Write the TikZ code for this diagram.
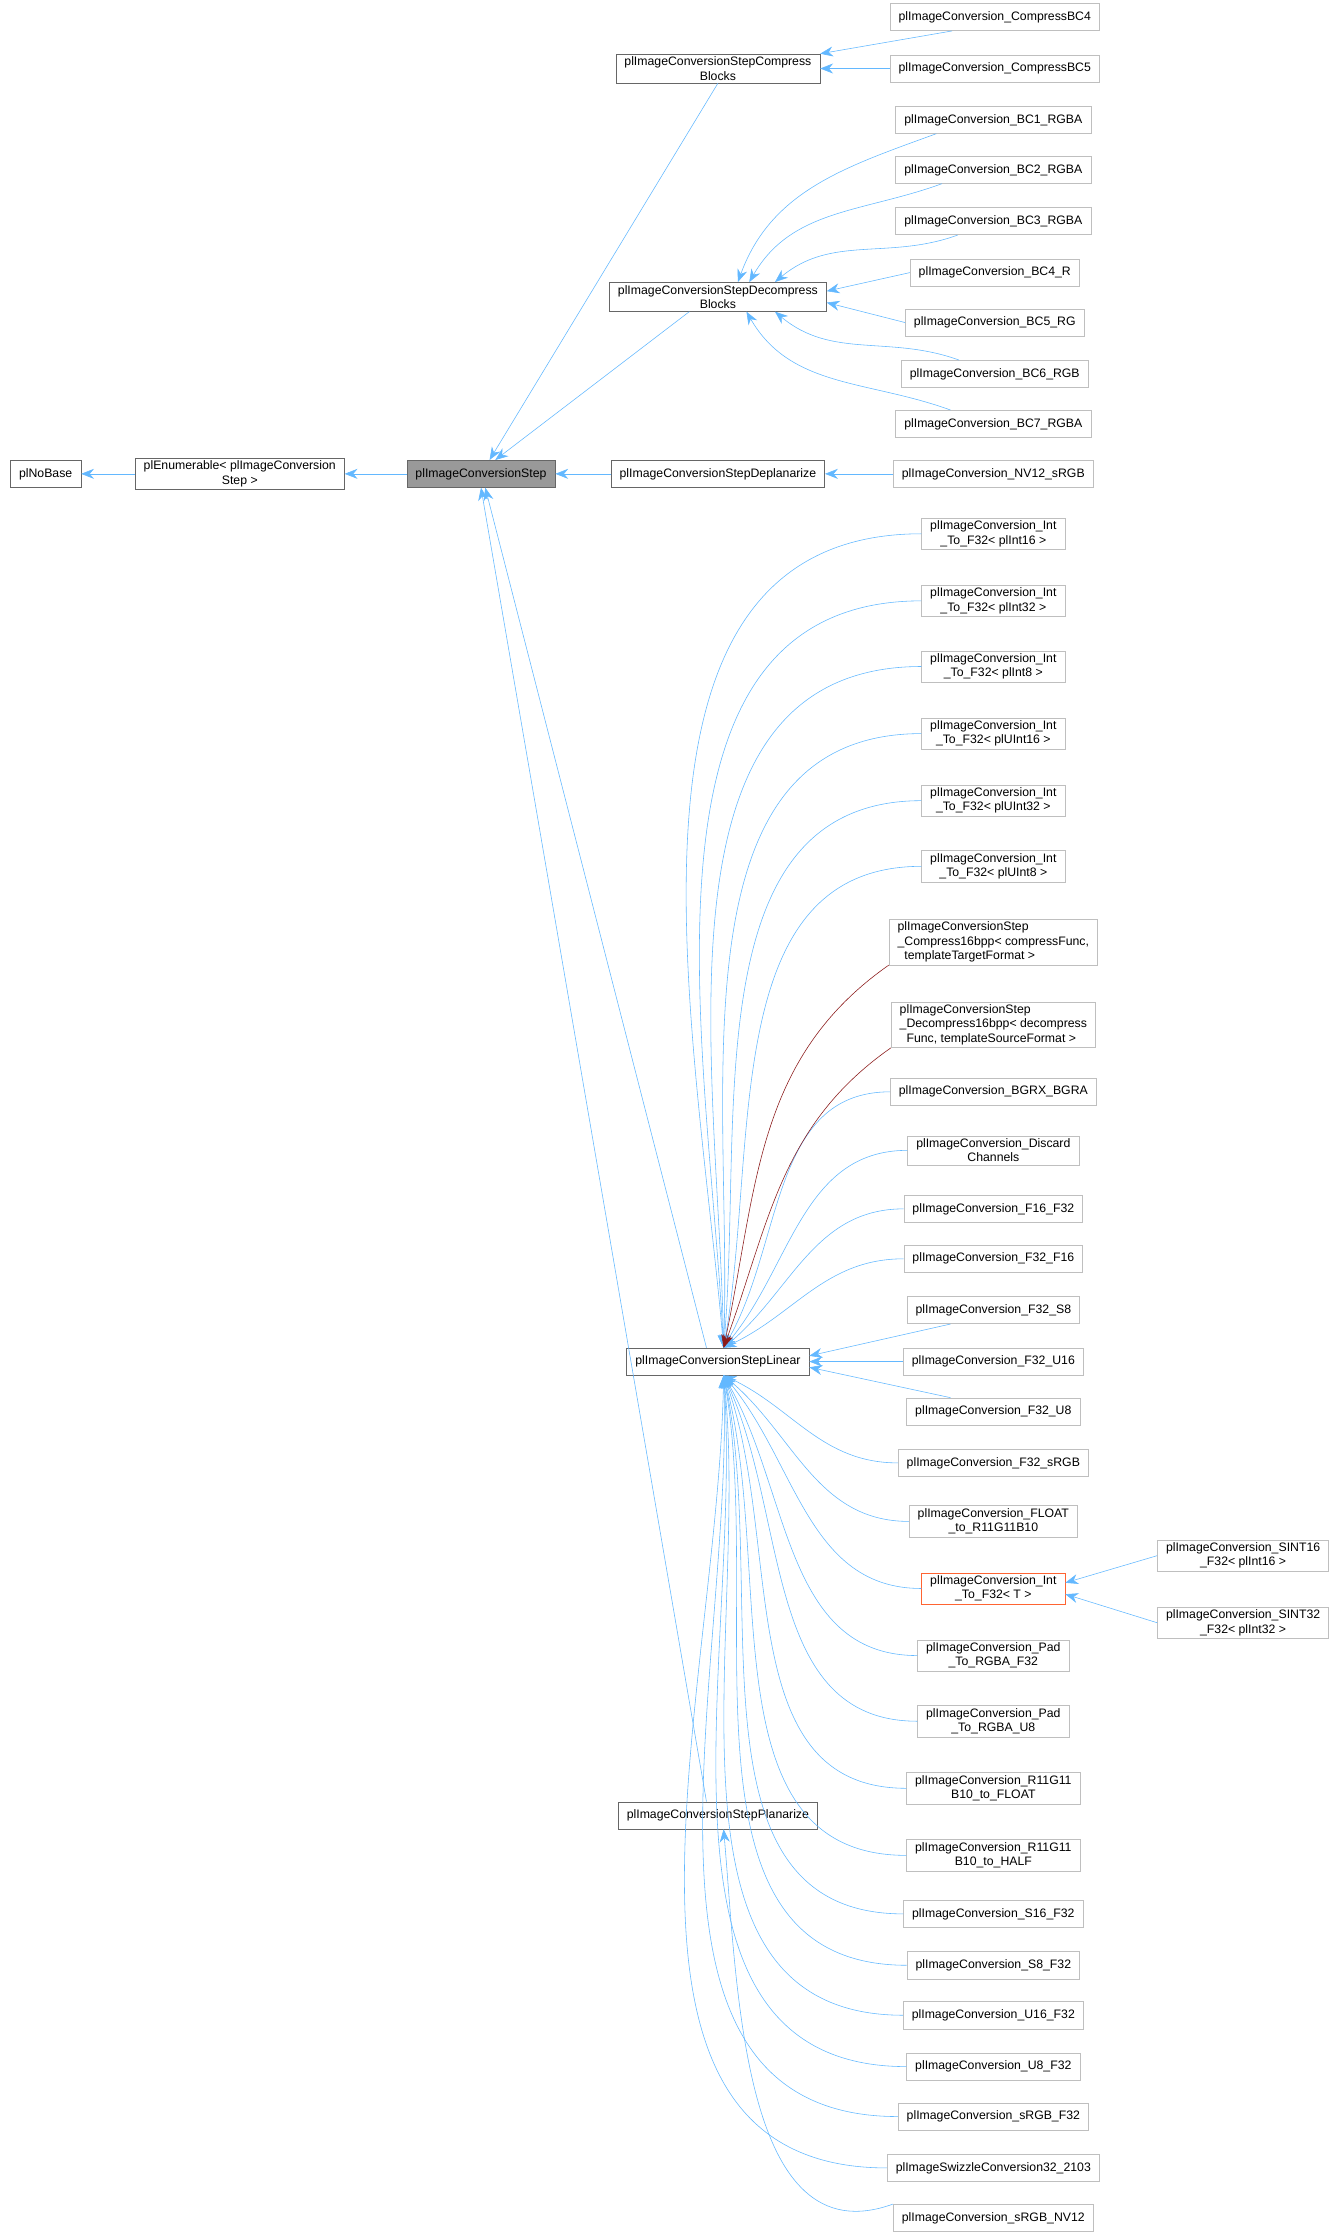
\documentclass[tikz,border=0pt]{standalone}
\usepackage{fontspec}
\setmainfont{Liberation Sans}
\usetikzlibrary{arrows.meta,calc}
\definecolor{eb}{HTML}{63B8FF}
\definecolor{dr}{HTML}{8B1A1A}
\begin{document}
\begin{tikzpicture}[x=1pt,y=-1pt,
  box/.style={draw=black!60,fill=white,font=\fontsize{8.6}{10}\selectfont,align=center,inner xsep=6pt,inner ysep=2pt,minimum height=19pt},
  lbox/.style={box,draw=black!25},
  inh/.style={draw=eb,-{Stealth[length=9pt,width=7pt]}},
  tinh/.style={draw=dr,-{Stealth[length=9pt,width=7pt]}}]
\useasboundingbox (0,0) rectangle (937,1566);
\node[box] (nobase) at (32,332) {plNoBase};
\node[box] (enum) at (168,332) {plEnumerable< plImageConversion\\Step >};
\node[box,fill=black!40] (step) at (337,332) {plImageConversionStep};
\node[box] (cb) at (503,48) {plImageConversionStepCompress\\Blocks};
\node[box] (db) at (503,208) {plImageConversionStepDecompress\\Blocks};
\node[box] (dep) at (503,332) {plImageConversionStepDeplanarize};
\node[box] (lin) at (503,954) {plImageConversionStepLinear};
\node[box] (pla) at (503,1272) {plImageConversionStepPlanarize};
\node[lbox] (c4) at (697,12) {plImageConversion\_CompressBC4};
\node[lbox] (c5) at (697,48) {plImageConversion\_CompressBC5};
\node[lbox] (b1) at (696,84) {plImageConversion\_BC1\_RGBA};
\node[lbox] (b2) at (696,119) {plImageConversion\_BC2\_RGBA};
\node[lbox] (b3) at (696,155) {plImageConversion\_BC3\_RGBA};
\node[lbox] (b4) at (697,191) {plImageConversion\_BC4\_R};
\node[lbox] (b5) at (697,226) {plImageConversion\_BC5\_RG};
\node[lbox] (b6) at (697,262) {plImageConversion\_BC6\_RGB};
\node[lbox] (b7) at (696,297) {plImageConversion\_BC7\_RGBA};
\node[lbox] (nv) at (696,332) {plImageConversion\_NV12\_sRGB};
\node[lbox] (i16) at (696,374) {plImageConversion\_Int\\\_To\_F32< plInt16 >};
\node[lbox] (i32) at (696,421) {plImageConversion\_Int\\\_To\_F32< plInt32 >};
\node[lbox] (i8) at (696,467) {plImageConversion\_Int\\\_To\_F32< plInt8 >};
\node[lbox] (u16) at (696,514) {plImageConversion\_Int\\\_To\_F32< plUInt16 >};
\node[lbox] (u32) at (696,561) {plImageConversion\_Int\\\_To\_F32< plUInt32 >};
\node[lbox] (u8) at (696,607) {plImageConversion\_Int\\\_To\_F32< plUInt8 >};
\node[lbox,align=left] (c16) at (696,660) {plImageConversionStep\\\_Compress16bpp< compressFunc,\\\ \ templateTargetFormat >};
\node[lbox,align=left] (d16) at (696,718) {plImageConversionStep\\\_Decompress16bpp< decompress\\\ \ Func, templateSourceFormat >};
\node[lbox] (bgrx) at (696,765) {plImageConversion\_BGRX\_BGRA};
\node[lbox] (disc) at (696,806) {plImageConversion\_Discard\\Channels};
\node[lbox] (f1632) at (696,847) {plImageConversion\_F16\_F32};
\node[lbox] (f3216) at (696,882) {plImageConversion\_F32\_F16};
\node[lbox] (fs8) at (696,918) {plImageConversion\_F32\_S8};
\node[lbox] (fu16) at (696,954) {plImageConversion\_F32\_U16};
\node[lbox] (fu8) at (696,989) {plImageConversion\_F32\_U8};
\node[lbox] (fsrgb) at (696,1025) {plImageConversion\_F32\_sRGB};
\node[lbox] (flt) at (696,1066) {plImageConversion\_FLOAT\\\_to\_R11G11B10};
\node[box,draw={rgb,255:red,255;green,100;blue,50}] (it) at (696,1113) {plImageConversion\_Int\\\_To\_F32< T >};
\node[lbox] (s16t) at (871,1090) {plImageConversion\_SINT16\\\_F32< plInt16 >};
\node[lbox] (s32t) at (871,1137) {plImageConversion\_SINT32\\\_F32< plInt32 >};
\node[lbox] (pf) at (696,1160) {plImageConversion\_Pad\\\_To\_RGBA\_F32};
\node[lbox] (pu) at (696,1206) {plImageConversion\_Pad\\\_To\_RGBA\_U8};
\node[lbox] (rfl) at (696,1253) {plImageConversion\_R11G11\\B10\_to\_FLOAT};
\node[lbox] (rha) at (696,1300) {plImageConversion\_R11G11\\B10\_to\_HALF};
\node[lbox] (s16) at (696,1341) {plImageConversion\_S16\_F32};
\node[lbox] (s8) at (696,1377) {plImageConversion\_S8\_F32};
\node[lbox] (un16) at (696,1412) {plImageConversion\_U16\_F32};
\node[lbox] (un8) at (696,1448) {plImageConversion\_U8\_F32};
\node[lbox] (srgb) at (696,1483) {plImageConversion\_sRGB\_F32};
\node[lbox] (swz) at (696,1519) {plImageSwizzleConversion32\_2103};
\node[lbox] (snv) at (696,1554) {plImageConversion\_sRGB\_NV12};
% main chain
\draw[inh] (enum) -- (nobase);
\draw[inh] (step) -- (enum);
\draw[inh] (dep) -- (step);
\draw[inh] (nv) -- (dep);
\draw[inh] (cb.south) -- ([xshift=6pt]step.north);
\draw[inh] ([xshift=-20pt]db.south) -- ([xshift=10pt]step.north);
\draw[inh] ([xshift=-8pt]lin.north) -- ([xshift=3pt]step.south);
\draw[inh] ([xshift=-8pt]pla.north) -- (step.south);
\draw[inh] ([xshift=-30pt]c4.south) -- (cb.north east);
\draw[inh] (c5) -- (cb);
\draw[inh] ([xshift=-40pt]b1.south) to[out=200,in=70] ([xshift=14pt]db.north);
\draw[inh] ([xshift=-36pt]b2.south) to[out=200,in=60] ([xshift=22pt]db.north);
\draw[inh] ([xshift=-25pt]b3.south) to[out=200,in=40] ([xshift=40pt]db.north);
\draw[inh] (b4.west) -- ([yshift=4pt]db.east);
\draw[inh] (b5.west) -- ([yshift=-4pt]db.east);
\draw[inh] ([xshift=-25pt]b6.north) to[out=160,in=-40] ([xshift=40pt]db.south);
\draw[inh] ([xshift=-30pt]b7.north) to[out=160,in=-60] ([xshift=20pt]db.south);
% linear fan
\foreach \n/\a in {i16/95,i32/93,i8/91,u16/88,u32/85,u8/80,bgrx/60,disc/50,f1632/40,f3216/25}
  \draw[inh] (\n.west) to[out=180,in=\a] ([xshift=4pt]lin.north);
\draw[tinh] (c16.south west) to[out=215,in=78] ([xshift=4pt]lin.north);
\draw[tinh] (d16.south west) to[out=215,in=70] ([xshift=4pt]lin.north);
\draw[inh] ([xshift=-30pt]fs8.south) -- ([yshift=4pt]lin.east);
\draw[inh] (fu16) -- (lin);
\draw[inh] ([xshift=-30pt]fu8.north) -- ([yshift=-4pt]lin.east);
\foreach \n/\a in {fsrgb/-25,flt/-40,it/-50,pf/-60,pu/-65,rfl/-70,rha/-75,s16/-78,s8/-80,un16/-84,un8/-86,srgb/-88,swz/-91}
  \draw[inh] (\n.west) to[out=180,in=\a] ([xshift=4pt]lin.south);
\draw[inh] (snv.north west) to[out=200,in=-85] ([xshift=4pt]pla.south);
\draw[inh] (s16t.west) -- ([yshift=4pt]it.east);
\draw[inh] (s32t.west) -- ([yshift=-4pt]it.east);
\end{tikzpicture}
\end{document}
